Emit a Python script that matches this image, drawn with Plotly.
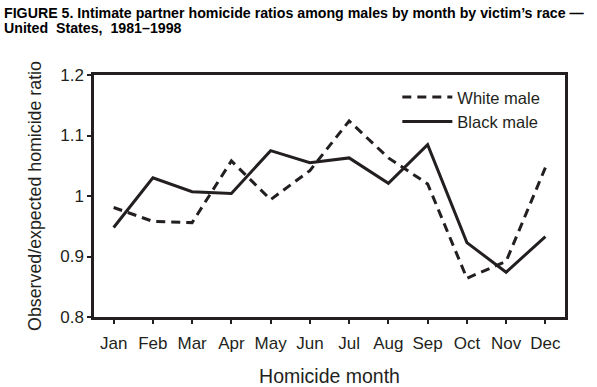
import plotly.graph_objects as go

months = ["Jan", "Feb", "Mar", "Apr", "May", "Jun", "Jul", "Aug", "Sep", "Oct", "Nov", "Dec"]
white_male = [0.981, 0.958, 0.956, 1.058, 0.994, 1.042, 1.124, 1.063, 1.020, 0.864, 0.892, 1.047]
black_male = [0.948, 1.030, 1.007, 1.004, 1.075, 1.055, 1.063, 1.021, 1.085, 0.923, 0.874, 0.933]
y_ticks = [0.8, 0.9, 1.0, 1.1, 1.2]
y_tick_labels = ["0.8", "0.9", "1", "1.1", "1.2"]
title_lines = ["FIGURE 5. Intimate partner homicide ratios among males by month by victim’s race —",
               "United  States,  1981–1998"]

font = "Liberation Sans, Arial, sans-serif"
ink = "#231f20"
fig = go.Figure()
fig.add_trace(go.Scatter(x=months, y=white_male, mode="lines", name="White male",
                         line=dict(color=ink, width=3, dash="9px,6px")))
fig.add_trace(go.Scatter(x=months, y=black_male, mode="lines", name="Black male",
                         line=dict(color=ink, width=3)))

for txt, ys in zip(title_lines, [62, 47]):
    fig.add_annotation(text="<b>" + txt + "</b>", xref="paper", yref="paper", x=0, y=1,
                       xanchor="left", yanchor="middle", xshift=-92, yshift=ys,
                       showarrow=False, font=dict(size=14.2, family=font, color="#000"))

fig.update_layout(
    width=597, height=387,
    margin=dict(l=94, r=32, t=75, b=70),
    paper_bgcolor="white", plot_bgcolor="white",
    font=dict(family=font, color=ink, size=17),
    showlegend=True,
    legend=dict(x=0.644, y=0.98, xanchor="left", yanchor="top", bgcolor="rgba(0,0,0,0)",
                font=dict(size=16.5), tracegroupgap=0, itemwidth=50),
    xaxis=dict(range=[-0.5, 11.5], showline=True, linewidth=2.5, linecolor=ink, mirror=True,
               ticks="outside", ticklen=4, tickwidth=2, tickcolor=ink, showgrid=False,
               ticklabelstandoff=5, automargin=False,
               title=dict(text="Homicide month", font=dict(size=19.5), standoff=20),
               tickfont=dict(size=17)),
    yaxis=dict(range=[0.8, 1.2], tickvals=y_ticks, ticktext=y_tick_labels, showline=True,
               linewidth=2.5, linecolor=ink, mirror=True, ticks="outside", ticklen=4,
               tickwidth=2, tickcolor=ink, showgrid=False, zeroline=False, automargin=False,
               title=dict(text="Observed/expected homicide ratio", font=dict(size=17.8), standoff=14),
               tickfont=dict(size=17)),
)
fig.write_html("out.html", config={"displayModeBar": False},
               post_script="document.body.style.margin='0px';")
